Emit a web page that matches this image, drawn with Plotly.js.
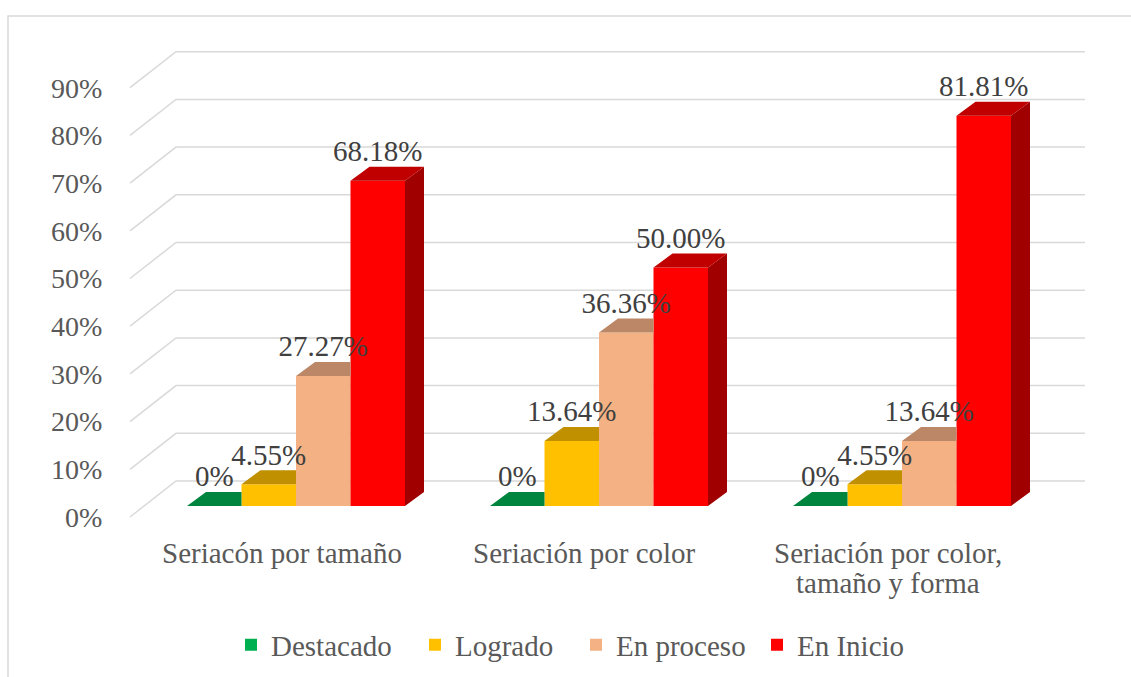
<!DOCTYPE html>
<html>
<head>
<meta charset="utf-8">
<script src="https://cdn.plot.ly/plotly-3.0.1.min.js"></script>
<style>
  html, body { margin: 0; padding: 0; background: #ffffff; }
  #chart { width: 1131px; height: 677px; }
</style>
</head>
<body>
<div id="chart"></div>
<script>
// ---- data (percent) ----
const categories = ["Seriacón por tamaño", "Seriación por color", "Seriación por color,<br>tamaño y forma"];
const seriesNames = ["Destacado", "Logrado", "En proceso", "En Inicio"];
const destacado = [0, 0, 0];
const logrado = [4.55, 13.64, 4.55];
const enProceso = [27.27, 36.36, 13.64];
const enInicio = [68.18, 50.00, 81.81];
const yTickValues = [0, 10, 20, 30, 40, 50, 60, 70, 80, 90];
const yTickLabels = ["0%", "10%", "20%", "30%", "40%", "50%", "60%", "70%", "80%", "90%"];

// ---- styles ----
const frontColors = ["#00B050", "#FFC000", "#F4B183", "#FF0000"];
const topColors   = ["#00853E", "#C09000", "#BC8766", "#C00000"];
const sideColors  = ["#006B30", "#A07800", "#9E7156", "#A00000"];
const legendWidths = [139, 116, 136, 110];   // px width of each legend entry text slot
const FONT = "Liberation Serif, Times New Roman, serif";
const TEXT_GRAY = "#595959";

// pseudo-3D geometry (in axis units)
const PX_X = 303;      // px per category
const PX_Y = 4.77;     // px per percent
const backDx = 46 / PX_X, backDy = 36 / PX_Y;     // floor depth (front edge -> back wall)
const barBase = 11 / PX_Y;                        // bar front base above floor front edge
const barShift = 14.5 / PX_X;                     // bar group centre shift from category centre
const barW = 54.5 / PX_X;
const depDx = 19 / PX_X, depDy = 14 / PX_Y;       // bar depth
const labelLift = 27 / PX_Y;

const xMin = -0.5 - 2 / PX_X;
const xMax = -0.5 + 955 / PX_X + 2 / PX_X;
const ML = 128, MR = 44, MT = 45, MB = 155;
const plotW = 1131 - ML - MR, plotH = 677 - MT - MB;
const pyPaper = px => (677 - MB - px) / plotH;   // page pixel row -> paper y
const pxPaper = px => (px - ML) / plotW;          // page pixel col -> paper x

const seriesValues = [destacado, logrado, enProceso, enInicio];
const fmt = v => v === 0 ? "0%" : v.toFixed(2) + "%";

const traces = [];
// front faces (real bars)
seriesValues.forEach((vals, j) => {
  traces.push({
    type: "bar",
    name: seriesNames[j],
    legendwidth: legendWidths[j],
    x: categories.map((c, i) => i),
    y: vals,
    base: vals.map(() => barBase),
    width: barW,
    offset: barShift + (j - 2) * barW,
    marker: { color: frontColors[j], line: { width: 0 } },
    hoverinfo: "skip"
  });
});

// top and side faces
seriesValues.forEach((vals, j) => {
  const tx = [], ty = [], sx = [], sy = [];
  vals.forEach((v, i) => {
    const xl = i + barShift + (j - 2) * barW;
    const xr = xl + barW;
    const t = barBase + v;
    const next = seriesValues[j + 1];
    const hidden = next && (barBase + next[i]) >= t + depDy;
    if (hidden) {
      tx.push(xl, xr, xr, xl + depDx, xl, null);
      ty.push(t, t, t + depDy, t + depDy, t, null);
    } else {
      tx.push(xl, xr, xr + depDx, xl + depDx, xl, null);
      ty.push(t, t, t + depDy, t + depDy, t, null);
      if (v > 0) {
        sx.push(xr, xr + depDx, xr + depDx, xr, xr, null);
        sy.push(barBase, barBase + depDy, t + depDy, t, barBase, null);
      }
    }
  });
  if (sx.length) traces.push({ type: "scatter", mode: "none", x: sx, y: sy, fill: "toself",
    fillcolor: sideColors[j], showlegend: false, hoverinfo: "skip" });
  traces.push({ type: "scatter", mode: "none", x: tx, y: ty, fill: "toself",
    fillcolor: topColors[j], showlegend: false, hoverinfo: "skip" });
});

// data labels
seriesValues.forEach((vals, j) => {
  traces.push({
    type: "scatter", mode: "text",
    x: vals.map((v, i) => i + barShift + (j - 1.5) * barW),
    y: vals.map(v => barBase + v + labelLift),
    text: vals.map(fmt),
    textposition: "middle center",
    textfont: { family: FONT, size: 29, color: "#404040" },
    cliponaxis: false, showlegend: false, hoverinfo: "skip"
  });
});

// back-wall gridlines (floor diagonal + horizontal) as shapes below the bars
const shapes = yTickValues.map(v => ({
  type: "path", xref: "x", yref: "y", layer: "below",
  path: `M ${-0.5},${v} L ${-0.5 + backDx},${v + backDy} L ${xMax - 2 / PX_X},${v + backDy}`,
  line: { color: "#d9d9d9", width: 1.5 }
}));
// chart-area border
shapes.push({
  type: "rect", xref: "paper", yref: "paper", layer: "below",
  x0: pxPaper(8), x1: pxPaper(1150),
  y0: pyPaper(700), y1: pyPaper(16),
  line: { color: "#d9d9d9", width: 1.5 }, fillcolor: "rgba(0,0,0,0)"
});

// category labels (one annotation per text line, Excel-like line spacing)
const annotations = [];
categories.forEach((c, i) => {
  c.split("<br>").forEach((line, k) => {
    annotations.push({
      xref: "x", yref: "paper", x: i, y: pyPaper(553 + 30 * k),
      xanchor: "center", yanchor: "middle", showarrow: false,
      text: line, font: { family: FONT, size: 29, color: TEXT_GRAY }
    });
  });
});

const layout = {
  width: 1131, height: 677,
  margin: { l: ML, r: MR, t: MT, b: MB, pad: 0, autoexpand: false },
  paper_bgcolor: "#ffffff", plot_bgcolor: "rgba(0,0,0,0)",
  barmode: "overlay",
  hovermode: false,
  showlegend: true,
  legend: {
    orientation: "h", x: pxPaper(231), xanchor: "left",
    y: pyPaper(645), yanchor: "middle",
    font: { family: FONT, size: 29, color: TEXT_GRAY },
    traceorder: "normal", bgcolor: "rgba(0,0,0,0)"
  },
  xaxis: {
    type: "linear", range: [xMin, xMax], fixedrange: true,
    showticklabels: false,
    showgrid: false, zeroline: false, showline: false, ticks: ""
  },
  yaxis: {
    range: [-5 / PX_Y, -5 / PX_Y + plotH / PX_Y], fixedrange: true,
    tickvals: yTickValues, ticktext: yTickLabels,
    showgrid: false, zeroline: false, showline: false,
    ticks: "outside", ticklen: 19, tickcolor: "rgba(0,0,0,0)",
    tickfont: { family: FONT, size: 28, color: TEXT_GRAY }
  },
  shapes: shapes,
  annotations: annotations
};

Plotly.newPlot("chart", traces, layout, { displayModeBar: false, staticPlot: true });
</script>
</body>
</html>
